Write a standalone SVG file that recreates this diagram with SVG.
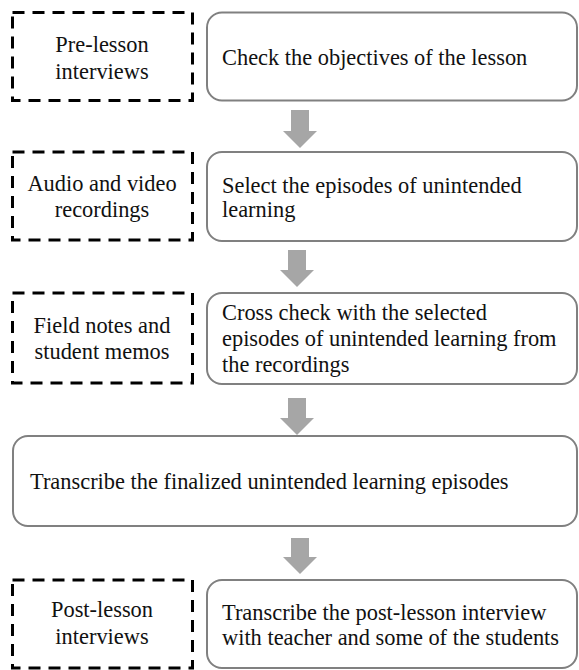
<svg xmlns="http://www.w3.org/2000/svg" width="579" height="670" viewBox="0 0 579 670">
<style>
.src{fill:#fff;stroke:#000;stroke-width:3;stroke-dasharray:12 8}
.step{fill:#fff;stroke:#808080;stroke-width:2}
text{font-family:"Liberation Serif","Times New Roman",serif;font-size:22.4px;fill:#111}
.c{text-anchor:middle}
.arr{fill:#a6a6a6}
</style>
<rect width="579" height="670" fill="#fff"/>
<g id="pre-lesson"><rect class="src" x="12.5" y="12.5" width="180" height="88"/><text class="c" x="102" y="52">Pre-lesson</text><text class="c" x="102" y="79">interviews</text></g>
<g id="check"><rect class="step" x="207" y="12.5" width="370" height="88" rx="15"/><text x="222" y="65">Check the objectives of the lesson</text></g>
<g id="audio"><rect class="src" x="12.5" y="152" width="180" height="88"/><text class="c" x="102" y="191">Audio and video</text><text class="c" x="102" y="217">recordings</text></g>
<g id="select"><rect class="step" x="207" y="152" width="370" height="89" rx="15"/><text x="222" y="193">Select the episodes of unintended</text><text x="222" y="217">learning</text></g>
<g id="field"><rect class="src" x="12.5" y="293" width="180" height="90"/><text class="c" x="102" y="333">Field notes and</text><text class="c" x="102" y="359">student memos</text></g>
<g id="cross"><rect class="step" x="207" y="293" width="370" height="91" rx="15"/><text x="222" y="320">Cross check with the selected</text><text x="222" y="346">episodes of unintended learning from</text><text x="222" y="372">the recordings</text></g>
<g id="transcribe"><rect class="step" x="13" y="436" width="564" height="90" rx="15"/><text x="30" y="489">Transcribe the finalized unintended learning episodes</text></g>
<g id="post-lesson"><rect class="src" x="12.5" y="580" width="180" height="88"/><text class="c" x="102" y="617">Post-lesson</text><text class="c" x="102" y="644">interviews</text></g>
<g id="transcribe-post"><rect class="step" x="207" y="580" width="370" height="88" rx="15"/><text x="222" y="620">Transcribe the post-lesson interview</text><text x="222" y="645">with teacher and some of the students</text></g>
<g id="connectors">
<path class="arr" d="M291 110H309V131H317L300 148L283 131H291Z"/>
<path class="arr" d="M288 250H306V270H314L297 287L280 270H288Z"/>
<path class="arr" d="M288 398H306V418H314L297 435L280 418H288Z"/>
<path class="arr" d="M291 538H309V557H317L300 574L283 557H291Z"/>
</g>
</svg>
